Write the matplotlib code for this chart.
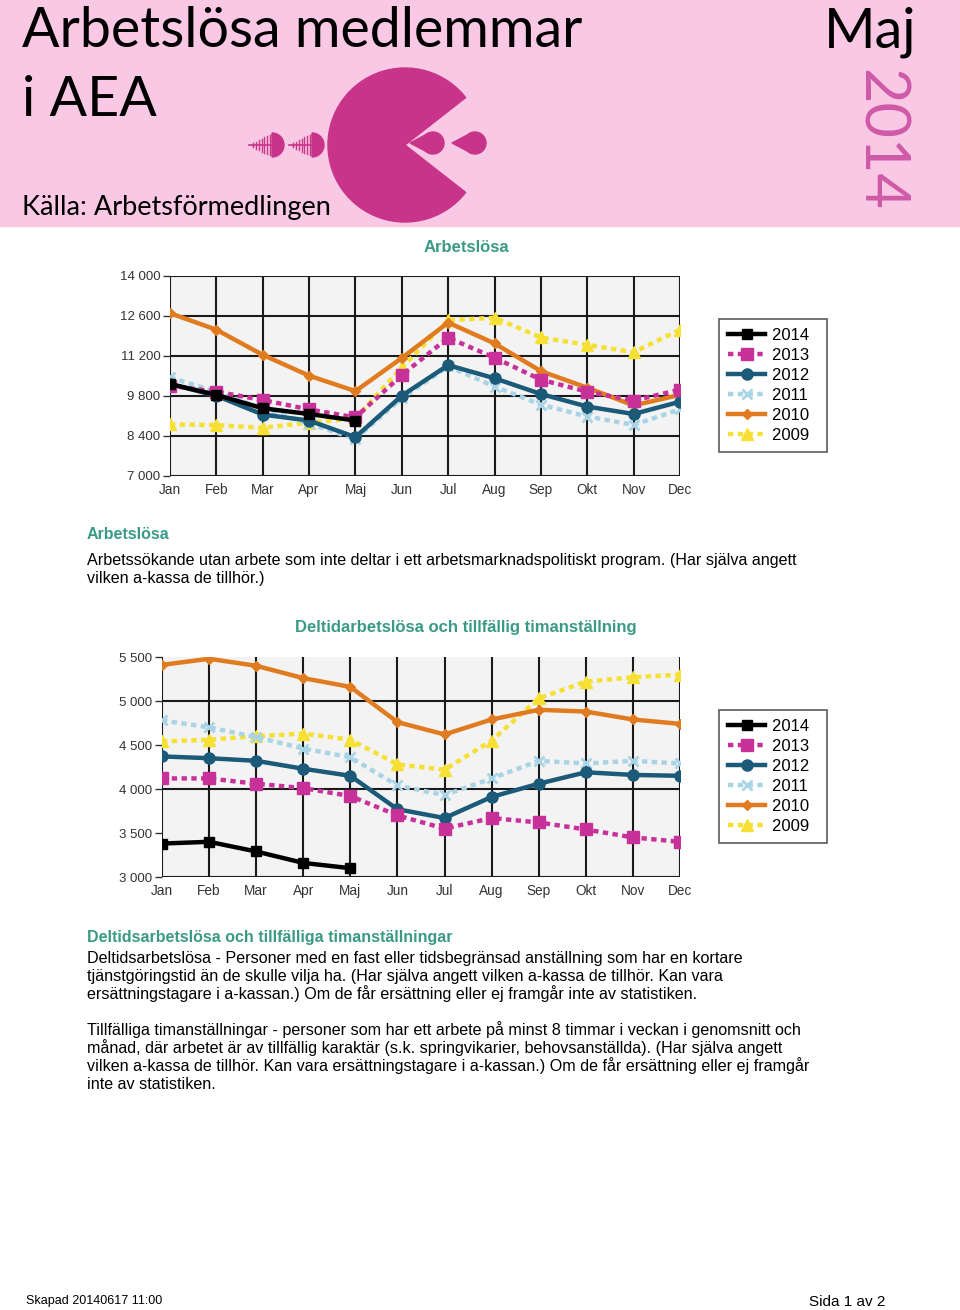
import numpy as np
import matplotlib
matplotlib.use("Agg")
import matplotlib.pyplot as plt
from matplotlib.patches import Wedge, Circle, Polygon, Rectangle

W, H = 960, 1310

months = ['Jan', 'Feb', 'Mar', 'Apr', 'Maj', 'Jun', 'Jul', 'Aug', 'Sep', 'Okt', 'Nov', 'Dec']
years = ['2014', '2013', '2012', '2011', '2010', '2009']

# Arbetslösa
arb_2014 = [10220, 9840, 9370, 9170, 8940]
arb_2013 = [10160, 9950, 9660, 9330, 9050, 10530, 11840, 11140, 10370, 9950, 9640, 10020]
arb_2012 = [10220, 9810, 9150, 8940, 8360, 9810, 10880, 10420, 9870, 9430, 9170, 9600]
arb_2011 = [10450, 9950, 9350, 8830, 8300, 9720, 10840, 10130, 9500, 9080, 8790, 9330]
arb_2010 = [12700, 12120, 11240, 10510, 9970, 11130, 12370, 11640, 10670, 10090, 9470, 9840]
arb_2009 = [8810, 8780, 8690, 8870, 9010, 10800, 12450, 12540, 11850, 11590, 11330, 12120]
arb_ticks = [7000, 8400, 9800, 11200, 12600, 14000]

# Deltidarbetslösa och tillfällig timanställning
del_2014 = [3380, 3400, 3290, 3160, 3100]
del_2013 = [4120, 4120, 4060, 4010, 3920, 3700, 3550, 3670, 3620, 3540, 3450, 3400]
del_2012 = [4370, 4350, 4320, 4230, 4150, 3770, 3670, 3910, 4060, 4190, 4160, 4150]
del_2011 = [4780, 4700, 4590, 4460, 4360, 4040, 3930, 4120, 4320, 4290, 4320, 4290]
del_2010 = [5410, 5480, 5400, 5260, 5160, 4760, 4620, 4790, 4900, 4880, 4790, 4740]
del_2009 = [4540, 4560, 4600, 4630, 4560, 4280, 4220, 4550, 5030, 5220, 5270, 5300]
del_ticks = [3000, 3500, 4000, 4500, 5000, 5500]

# stil per år: färg, linjestil, markör, markörstorlek
styles = {
    '2014': ('black', '-', 's', 7),
    '2013': ('#c8309a', (0, (1.2, 1.0)), 's', 8),
    '2012': ('#1b5a78', '-', 'o', 8),
    '2011': ('#a9d4e6', (0, (1.2, 1.0)), 'x', 7),
    '2010': ('#e07b1f', '-', 'D', 5),
    '2009': ('#f6e034', (0, (1.2, 1.0)), '^', 8),
}

teal = '#3a9a86'
pink = '#f8c8e4'
logo = '#c8348a'

plt.rcParams['font.family'] = ['Liberation Sans', 'DejaVu Sans']

fig = plt.figure(figsize=(W / 100, H / 100), dpi=100)


def px_axes(x0, y0, x1, y1, **kw):
    return fig.add_axes([x0 / W, 1 - y1 / H, (x1 - x0) / W, (y1 - y0) / H], **kw)


# bakgrund / logga i pixelkoordinater
bg = px_axes(0, 0, W, H)
bg.set_xlim(0, W)
bg.set_ylim(H, 0)
bg.axis('off')
bg.add_patch(Rectangle((0, 0), W, 226, color=pink, zorder=0))
bg.add_patch(Wedge((405, 145), 77, 38, 322, color=logo))
for cx in (433, 475):
    bg.add_patch(Circle((cx, 143), 11, color=logo))
    bg.add_patch(Polygon([(cx - 23, 143), (cx - 4, 133), (cx - 4, 153)], color=logo))
for cx in (272, 312):
    bg.add_patch(Wedge((cx, 145), 12, -90, 90, color=logo))
    bg.plot([cx - 23, cx], [145, 145], color=logo, lw=1.2)
    for k, h in enumerate([10, 9, 8, 6.5, 5, 3.5, 2]):
        xx = cx - 2 - k * 2.8
        bg.plot([xx, xx], [145 - h, 145 + h], color=logo, lw=1.0)

header_font = ['Lato', 'DejaVu Sans']
fig.text(22 / W, 1 - 47 / H, 'Arbetslösa medlemmar', fontsize=40, family=header_font, va='baseline')
fig.text(22 / W, 1 - 116 / H, 'i AEA', fontsize=40, family=header_font, va='baseline')
fig.text(22 / W, 1 - 215 / H, 'Källa: Arbetsförmedlingen', fontsize=19.5, family=header_font, va='baseline')
fig.text(916 / W, 1 - 47 / H, 'Maj', fontsize=40, family=header_font, va='baseline', ha='right')
fig.text(879 / W, 1 - 140 / H, '2014', fontsize=44, family=header_font, color='#cf5aa8',
         rotation=-90, ha='center', va='center')


def draw_chart(ax, series, ticks):
    ax.set_facecolor('#f3f3f3')
    x = np.arange(len(months))
    for yr in reversed(years):
        c, ls, m, ms = styles[yr]
        vals = series[yr]
        ax.plot(x[:len(vals)], vals, color=c, ls=ls, lw=3.2, marker=m, ms=ms,
                mec=c, mew=2 if m == 'x' else 1, label=yr, zorder=3)
    ax.set_xlim(0, 11)
    ax.set_ylim(ticks[0], ticks[-1])
    ax.set_xticks(x)
    ax.set_xticklabels(months)
    ax.set_yticks(ticks)
    ax.set_yticklabels([f'{t:,}'.replace(',', ' ') for t in ticks])
    ax.tick_params(axis='x', length=0, pad=5, labelsize=9.8, colors='#333333')
    ax.tick_params(axis='y', length=5, width=1, pad=2, labelsize=9.5, colors='#333333')
    ax.grid(True, axis='x', color='#1a1a1a', lw=1.5, zorder=1)
    for s in ax.spines.values():
        s.set_visible(False)
    handles, labels = ax.get_legend_handles_labels()
    return handles[::-1], labels[::-1]


def add_legend(ax, handles, labels, top):
    leg = ax.legend(handles, [l + '  ' for l in labels], loc='upper left',
                    bbox_to_anchor=(719 / W, 1 - top / H),
                    bbox_transform=fig.transFigure, fontsize=12, frameon=True, fancybox=False,
                    borderpad=0.55, labelspacing=0.3, handlelength=2.2, handletextpad=0.4,
                    borderaxespad=0)
    leg.get_frame().set_edgecolor('#333333')
    leg.get_frame().set_linewidth(1.2)


# diagram 1
ax1 = px_axes(170, 276, 680, 476)
h1, l1 = draw_chart(ax1, {'2014': arb_2014, '2013': arb_2013, '2012': arb_2012,
                          '2011': arb_2011, '2010': arb_2010, '2009': arb_2009}, arb_ticks)
ax1.grid(True, axis='y', color='#1a1a1a', lw=1.5, zorder=1)
fig.text(466 / W, 1 - 248 / H, 'Arbetslösa', color=teal, fontsize=12, weight='bold',
         ha='center', va='center')
add_legend(ax1, h1, l1, 319)

# diagram 2
ax2 = px_axes(162, 657, 680, 877)
h2, l2 = draw_chart(ax2, {'2014': del_2014, '2013': del_2013, '2012': del_2012,
                          '2011': del_2011, '2010': del_2010, '2009': del_2009}, del_ticks)
for t in (3000, 4000, 5000):
    ax2.axhline(t, color='#1a1a1a', lw=1.5, zorder=1)
fig.text(466 / W, 1 - 628 / H, 'Deltidarbetslösa och tillfällig timanställning', color=teal,
         fontsize=12, weight='bold', ha='center', va='center')
add_legend(ax2, h2, l2, 710)

# texter
fs = 11.6
lh = 18
fig.text(87 / W, 1 - 539 / H, 'Arbetslösa', color=teal, fontsize=11.5, weight='bold', va='baseline')
body1 = ['Arbetssökande utan arbete som inte deltar i ett arbetsmarknadspolitiskt program. (Har själva angett',
         'vilken a-kassa de tillhör.)']
for i, line in enumerate(body1):
    fig.text(87 / W, 1 - (565 + i * lh) / H, line, fontsize=fs, va='baseline')

fig.text(87 / W, 1 - 942 / H, 'Deltidsarbetslösa och tillfälliga timanställningar', color=teal,
         fontsize=11.5, weight='bold', va='baseline')
body2 = ['Deltidsarbetslösa - Personer med en fast eller tidsbegränsad anställning som har en kortare',
         'tjänstgöringstid än de skulle vilja ha. (Har själva angett vilken a-kassa de tillhör. Kan vara',
         'ersättningstagare i a-kassan.) Om de får ersättning eller ej framgår inte av statistiken.',
         '',
         'Tillfälliga timanställningar - personer som har ett arbete på minst 8 timmar i veckan i genomsnitt och',
         'månad, där arbetet är av tillfällig karaktär (s.k. springvikarier, behovsanställda). (Har själva angett',
         'vilken a-kassa de tillhör. Kan vara ersättningstagare i a-kassan.) Om de får ersättning eller ej framgår',
         'inte av statistiken.']
for i, line in enumerate(body2):
    fig.text(87 / W, 1 - (963 + i * lh) / H, line, fontsize=fs, va='baseline')

fig.text(26 / W, 1 - 1304 / H, 'Skapad 20140617 11:00', fontsize=9, va='baseline')
fig.text(809 / W, 1 - 1306 / H, 'Sida 1 av 2', fontsize=11, va='baseline')

fig.savefig('out.png', dpi=100)
